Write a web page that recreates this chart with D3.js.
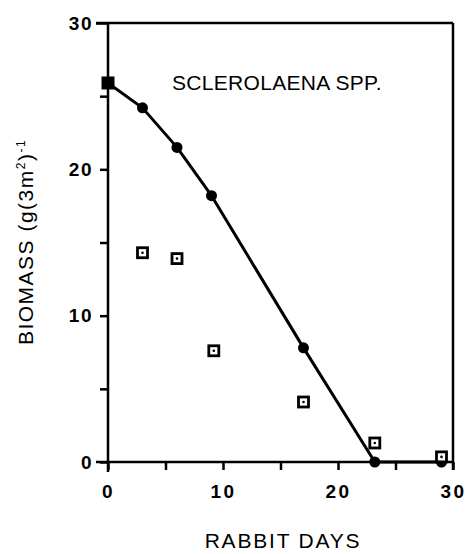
<!DOCTYPE html>
<html><head><meta charset="utf-8">
<script src="https://cdn.jsdelivr.net/npm/d3@7"></script>
<style>body{margin:0;background:#fff}svg{display:block}text{font-family:"Liberation Sans",Arial,sans-serif;fill:#000}</style>
</head><body><svg id="c" width="473" height="554"></svg>
<script>
const fittedDays = [0, 3, 6, 9, 17, 23.2, 29];
const fittedBiomass = [25.9, 24.2, 21.5, 18.2, 7.8, 0, 0];
const observedDays = [3, 6, 9.2, 17, 23.2, 29];
const observedBiomass = [14.3, 13.9, 7.6, 4.1, 1.3, 0.35];
const xTicks = [0, 10, 20, 30];
const yTicks = [0, 10, 20, 30];
const minorTicks = [5, 15, 25];

const svg = d3.select("#c");
const x = d3.scaleLinear().domain([0, 30]).range([108, 453]);
const y = d3.scaleLinear().domain([0, 30]).range([462, 23]);

// frame
svg.append("line").attr("x1", 96).attr("x2", 453).attr("y1", y(30)).attr("y2", y(30)).attr("stroke", "#000").attr("stroke-width", 2.5);
svg.append("line").attr("x1", 453).attr("x2", 453).attr("y1", y(30)).attr("y2", 470).attr("stroke", "#000").attr("stroke-width", 2.5);

// axes
const xAxis = d3.axisBottom(x).tickValues(xTicks.concat(minorTicks)).tickSize(8).tickFormat(d => xTicks.includes(d) ? d : "");
const gx = svg.append("g").attr("transform", `translate(0,${y(0)})`).call(xAxis);
gx.select(".domain").attr("d", `M96,0H453`).attr("stroke-width", 2.5);
gx.selectAll(".tick line").attr("stroke-width", 2.5);
gx.selectAll(".tick text").attr("y", 23).attr("font-size", 19).attr("font-weight", "bold").attr("letter-spacing", 2.5);

const yAxis = d3.axisLeft(y).tickValues(yTicks.concat(minorTicks)).tickSize(8).tickFormat(d => yTicks.includes(d) ? d : "");
const gy = svg.append("g").attr("transform", `translate(${x(0)},0)`).call(yAxis);
gy.select(".domain").attr("d", `M0,${y(30)}V472`).attr("stroke-width", 2.5);
gy.selectAll(".tick line").attr("stroke-width", 2.5);
gy.selectAll(".tick text").attr("x", -15).attr("font-size", 19).attr("font-weight", "bold").attr("letter-spacing", 1.5);
gy.selectAll(".tick").filter(d => d === 30).select("line").attr("x2", -12);

// line
const pts = fittedDays.map((d, i) => [d, fittedBiomass[i]]);
svg.append("path").datum(pts)
  .attr("d", d3.line().x(d => x(d[0])).y(d => y(d[1])).curve(d3.curveLinear))
  .attr("fill", "none").attr("stroke", "#000").attr("stroke-width", 3).attr("stroke-linejoin", "round");

svg.selectAll("circle.f").data(pts.slice(1)).join("circle")
  .attr("cx", d => x(d[0])).attr("cy", d => y(d[1])).attr("r", 5.5).attr("fill", "#000");
svg.append("rect").attr("x", x(pts[0][0]) - 6.5).attr("y", y(pts[0][1]) - 6.5).attr("width", 13).attr("height", 13).attr("fill", "#000");

// observed squares
const obs = observedDays.map((d, i) => [d, observedBiomass[i]]);
const g = svg.selectAll("g.o").data(obs).join("g").attr("transform", d => `translate(${x(d[0])},${y(d[1])})`);
g.append("rect").attr("x", -5).attr("y", -5).attr("width", 10).attr("height", 10).attr("fill", "#fff").attr("stroke", "#000").attr("stroke-width", 2.8);
g.append("circle").attr("r", 1.3).attr("fill", "#000");

// labels
svg.append("text").attr("x", 172).attr("y", 90).attr("font-size", 21).attr("letter-spacing", 0.3).text("SCLEROLAENA SPP.");
svg.append("text").attr("x", 283).attr("y", 548).attr("text-anchor", "middle").attr("font-size", 21).attr("letter-spacing", 1.8).text("RABBIT DAYS");
const yt = svg.append("text").attr("transform", `translate(33,242) rotate(-90)`).attr("text-anchor", "middle").attr("font-size", 21).attr("letter-spacing", 1.5);
yt.append("tspan").text("BIOMASS (g(3m");
yt.append("tspan").attr("font-size", 12).attr("dy", -8).text("2");
yt.append("tspan").attr("dy", 8).text(")");
yt.append("tspan").attr("font-size", 12).attr("dy", -8).text("-1");
</script></body></html>
